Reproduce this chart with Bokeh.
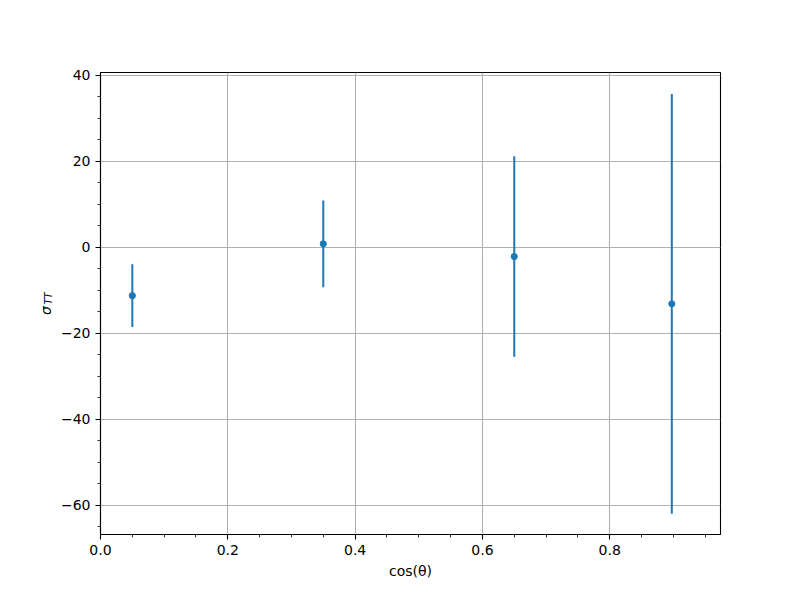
import math
from bokeh.plotting import figure
from bokeh.models import (Range1d, SingleIntervalTicker, CustomJSTickFormatter,
                          Label, ColumnDataSource)
from bokeh.embed import file_html
from bokeh.resources import INLINE

# data
cos_theta = [0.05, 0.35, 0.65, 0.8975]
sigma_tt = [-11.3, 0.75, -2.2, -13.2]
sigma_err = [7.3, 10.1, 23.3, 48.8]

lower = [v - e for v, e in zip(sigma_tt, sigma_err)]
upper = [v + e for v, e in zip(sigma_tt, sigma_err)]
src = ColumnDataSource(dict(x=cos_theta, y=sigma_tt, lo=lower, hi=upper))

FONT = "DejaVu Sans"
BLUE = "#1f77b4"

p = figure(width=784, height=584, output_backend="svg", toolbar_location=None,
           x_range=Range1d(0, 0.974), y_range=Range1d(-66.85, 40.6),
           min_border_left=100, min_border_right=64,
           min_border_top=72, min_border_bottom=50)
p.background_fill_color = "white"
p.border_fill_color = "white"
p.outline_line_color = "black"
p.outline_line_width = 1.1

p.segment(x0="x", y0="lo", x1="x", y1="hi", source=src,
          line_color=BLUE, line_width=2.0)
p.scatter(x="x", y="y", source=src, size=6.2, fill_color=BLUE, line_color=BLUE)

p.xaxis.ticker = SingleIntervalTicker(interval=0.2, num_minor_ticks=4)
p.yaxis.ticker = SingleIntervalTicker(interval=20, num_minor_ticks=4)
p.xaxis.formatter = CustomJSTickFormatter(code="""
var v = Math.round(tick*1000)/1000;
var s = Math.abs(v).toFixed(1);
return (v < 0 ? '\\u2212' : '') + s;
""")
p.yaxis.formatter = CustomJSTickFormatter(code="""
var v = Math.round(tick);
return (v < 0 ? '\\u2212' : '') + Math.abs(v).toString();
""")

for ax in (p.xaxis, p.yaxis):
    ax.axis_line_color = "black"
    ax.axis_line_width = 1.1
    ax.major_tick_line_color = "black"
    ax.minor_tick_line_color = "black"
    ax.major_tick_line_width = 1.1
    ax.minor_tick_line_width = 0.8
    ax.major_tick_out = 5
    ax.major_tick_in = 0
    ax.minor_tick_out = 3
    ax.minor_tick_in = 0
    ax.major_label_text_font = FONT
    ax.major_label_text_font_size = "14px"
    ax.major_label_text_color = "black"
    ax.major_label_standoff = 5

p.xaxis.axis_label = "cos(θ)"
p.xaxis.axis_label_text_font = FONT
p.xaxis.axis_label_text_font_size = "14px"
p.xaxis.axis_label_text_font_style = "normal"
p.xaxis.axis_label_text_color = "black"
p.xaxis.axis_label_standoff = 5

p.xgrid.grid_line_color = "#b0b0b0"
p.ygrid.grid_line_color = "#b0b0b0"
p.xgrid.grid_line_width = 1.1
p.ygrid.grid_line_width = 1.1

# y-axis label: sigma with subscript TT (rotated), placed in the left side panel
p.add_layout(Label(x=45, y=310, x_units="canvas", y_units="canvas", text="σ",
                   angle=math.pi / 2, text_align="center", text_baseline="alphabetic",
                   text_font=FONT, text_font_size="14px", text_font_style="italic",
                   text_color="black"), "left")
p.add_layout(Label(x=48, y=298, x_units="canvas", y_units="canvas", text="TT",
                   angle=math.pi / 2, text_align="center", text_baseline="alphabetic",
                   text_font=FONT, text_font_size="10px", text_font_style="italic",
                   text_color="black"), "left")

open("out.html", "w").write(file_html(p, INLINE))
